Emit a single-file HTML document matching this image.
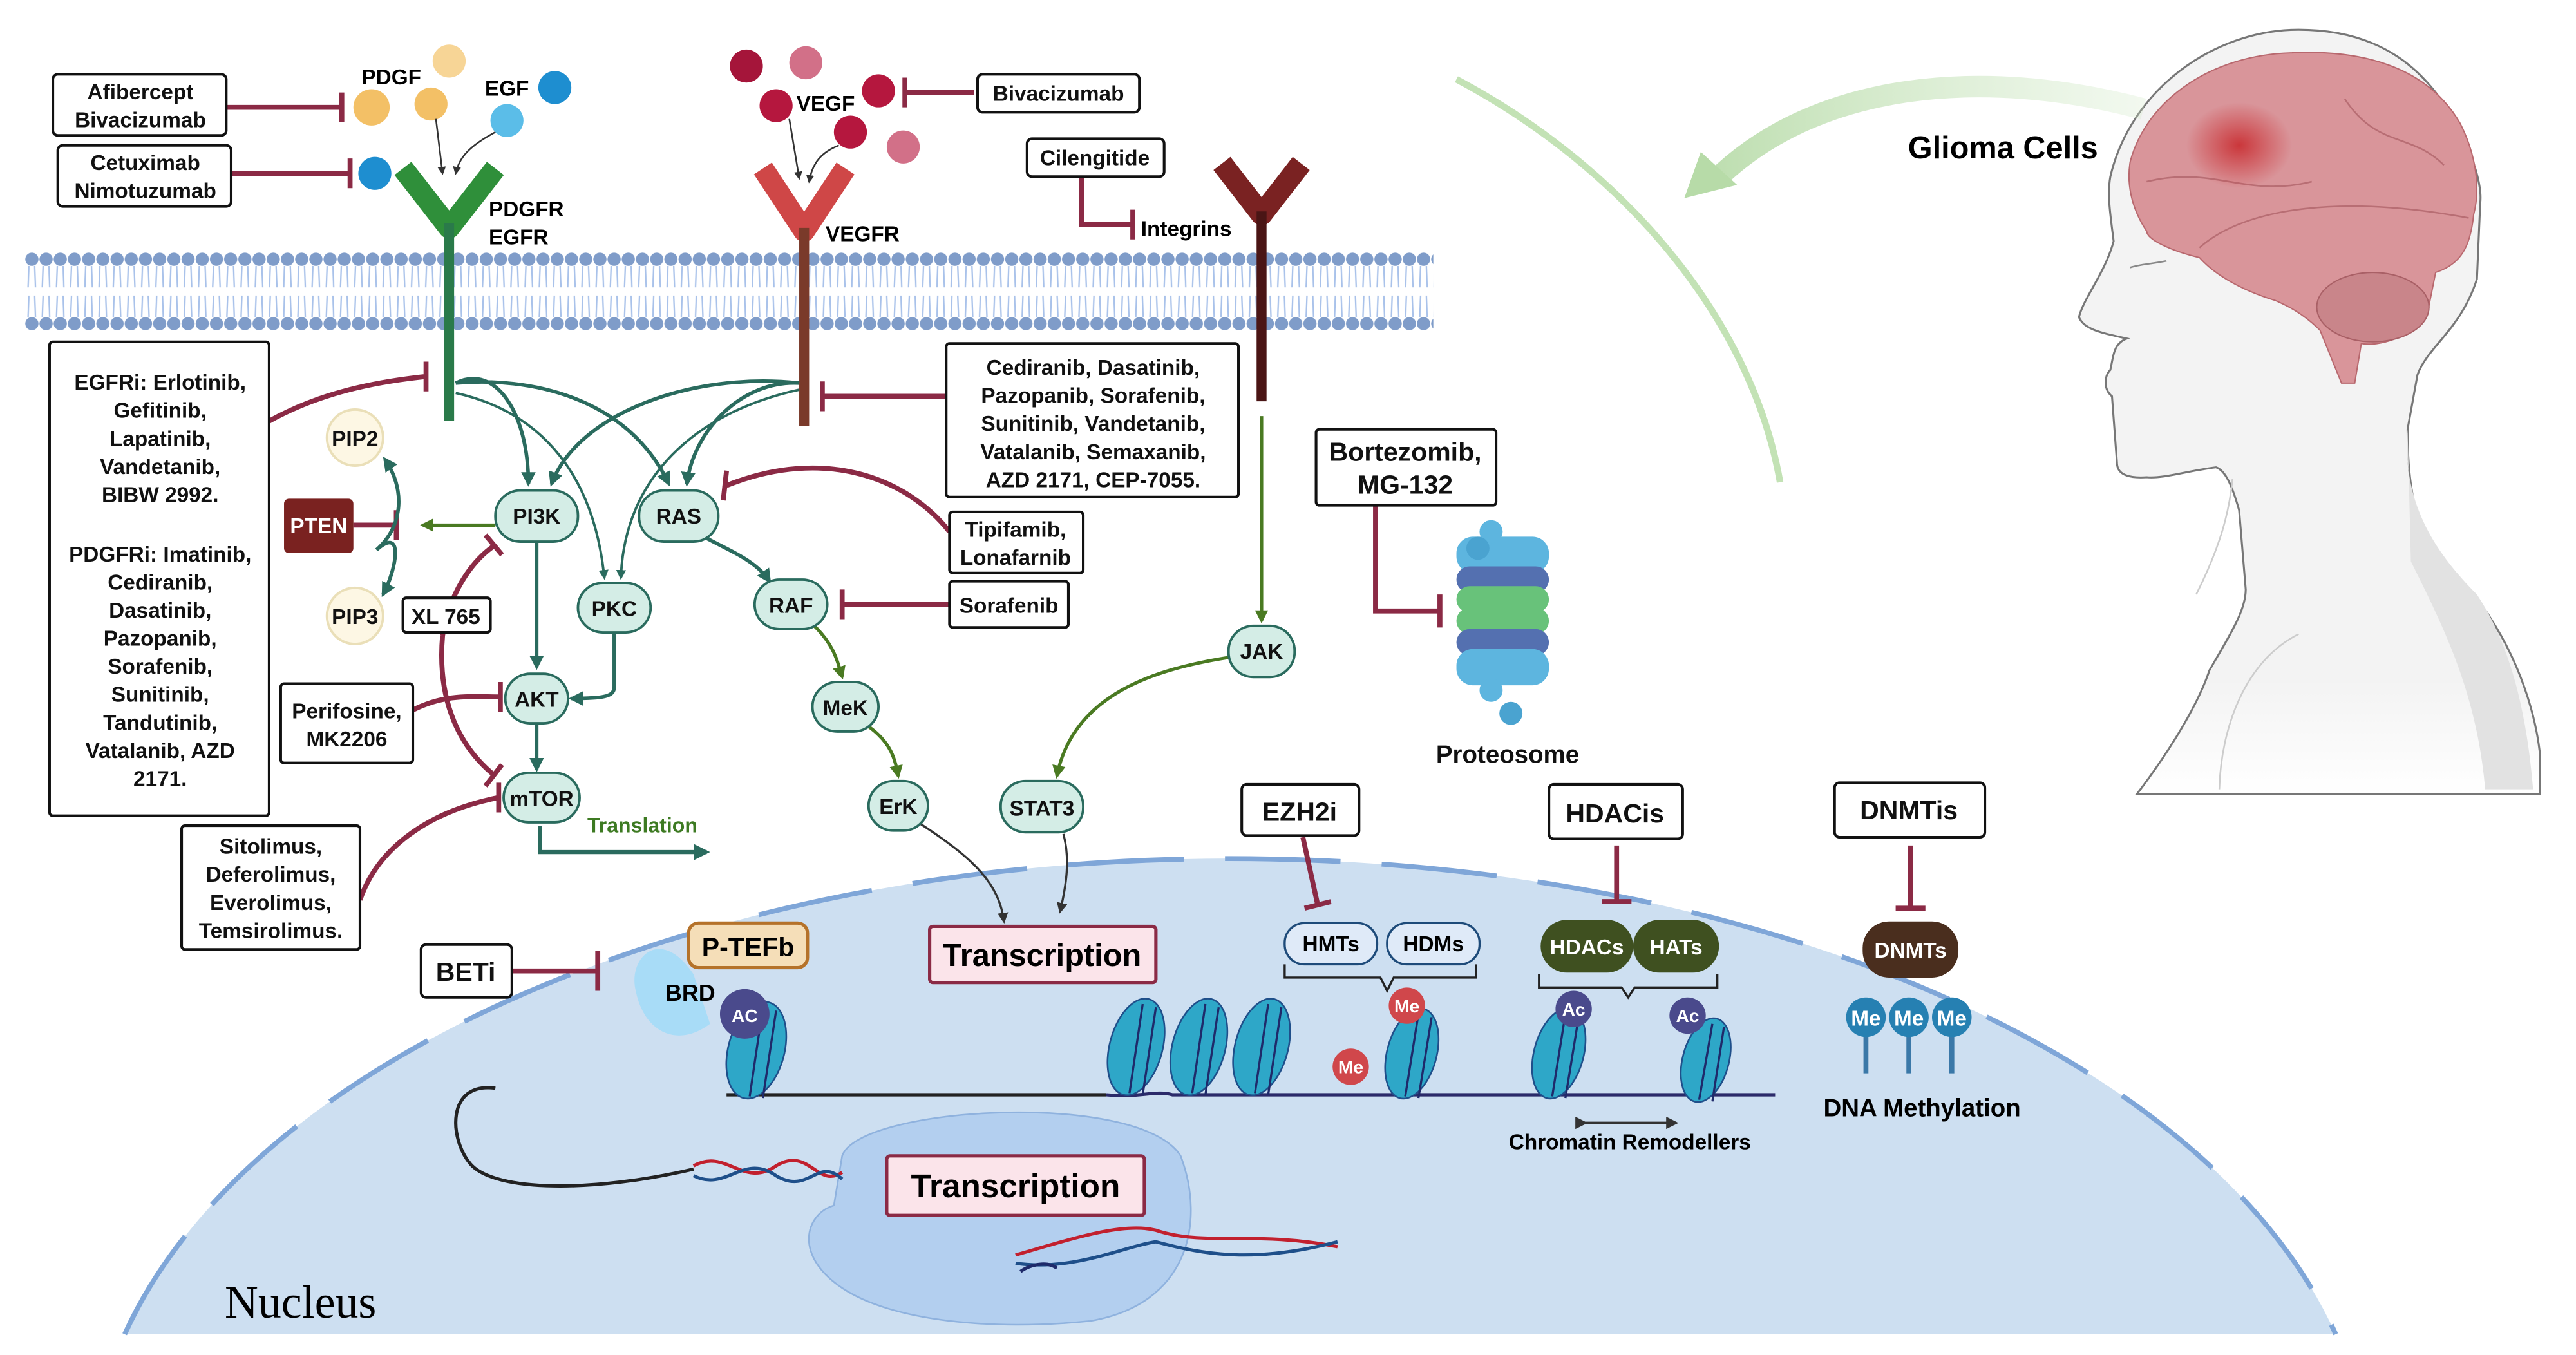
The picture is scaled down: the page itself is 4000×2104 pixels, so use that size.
<!DOCTYPE html>
<html><head><meta charset="utf-8"><style>
html,body{margin:0;padding:0;background:#fff;width:4000px;height:2104px;overflow:hidden;}
svg{display:block;}
text{font-family:"Liberation Sans",Arial,sans-serif;font-weight:bold;}
</style></head><body>
<svg width="4000" height="2104" viewBox="0 0 1560 820.56" preserveAspectRatio="none" xmlns="http://www.w3.org/2000/svg">
<defs>
<pattern id="heads" x="15" y="0" width="8.6" height="820" patternUnits="userSpaceOnUse">
<circle cx="4.3" cy="157" r="4" fill="#7f9cc9"/>
<circle cx="4.3" cy="196" r="4" fill="#7f9cc9"/>
<path d="M2.5 161 L2 174 M6 161 L6.5 174 M2.5 179 L2 192 M6 179 L6.5 192" stroke="#a9c2ea" stroke-width="0.9" fill="none"/>
</pattern>
<radialGradient id="glow" cx="0.5" cy="0.5" r="0.5"><stop offset="0" stop-color="#c8262a" stop-opacity="0.85"/><stop offset="1" stop-color="#c8262a" stop-opacity="0"/></radialGradient>
<linearGradient id="grn" x1="0" y1="0" x2="1" y2="0"><stop offset="0" stop-color="#b7dba8"/><stop offset="1" stop-color="#cfe8c4" stop-opacity="0.3"/></linearGradient>
<linearGradient id="bodyfade" x1="0" y1="0" x2="0" y2="1"><stop offset="0.85" stop-color="#f3f3f3"/><stop offset="1" stop-color="#fff"/></linearGradient>
<marker id="ag" viewBox="0 0 10 10" refX="8" refY="5" markerWidth="4" markerHeight="4" orient="auto"><path d="M0 0 L10 5 L0 10 z" fill="#2a6b5e"/></marker>
<marker id="agr" viewBox="0 0 10 10" refX="8" refY="5" markerWidth="4" markerHeight="4" orient="auto"><path d="M0 0 L10 5 L0 10 z" fill="#4a7a22"/></marker>
<marker id="ak" viewBox="0 0 10 10" refX="8" refY="5" markerWidth="5" markerHeight="5" orient="auto"><path d="M0 0 L10 5 L0 10 z" fill="#333"/></marker>
</defs>

<!-- head -->
<path d="M1392 18 C1440 18 1470 40 1490 80 C1500 100 1503 115 1502 123 L1500 169 C1490 200 1470 210 1464 227 L1458 260 C1458 290 1462 310 1468 322 C1480 345 1500 360 1508 374 C1525 400 1535 430 1538 455 L1538 481 L1294 481 C1310 460 1330 430 1338 406 C1350 385 1360 370 1360 357 L1356 309 C1352 295 1348 285 1342 283 C1325 285 1310 290 1300 289 C1285 290 1282 285 1282 280 L1279 240 C1274 236 1274 228 1278 224 C1280 215 1280 208 1288 205 C1275 202 1262 200 1259 192 C1262 180 1275 165 1280 146 C1278 130 1276 118 1278 107 C1290 55 1340 18 1392 18 Z" fill="url(#bodyfade)" stroke="#777" stroke-width="1.2"/>
<path d="M1458 260 C1455 300 1470 330 1500 360 C1520 390 1530 430 1534 478 L1505 478 C1500 420 1480 380 1460 340 Z" fill="#e2e2e2"/>
<path d="M1330 360 C1345 330 1350 310 1352 290" stroke="#ccc" stroke-width="1" fill="none"/>
<path d="M1392 384 C1360 400 1345 440 1344 478" stroke="#ccc" stroke-width="1" fill="none"/>
<path d="M1290 162 C1296 160 1302 160 1312 158" stroke="#888" stroke-width="1" fill="none"/>
<!-- brain -->
<path d="M1290 98 C1300 60 1340 33 1388 32 C1430 30 1470 40 1490 75 C1500 95 1502 115 1498 130 C1496 150 1490 160 1475 165 L1470 190 C1460 205 1440 210 1430 208 L1426 232 L1418 232 L1405 200 C1395 190 1385 185 1378 182 C1355 175 1340 165 1332 156 C1315 152 1300 145 1300 140 C1290 125 1288 110 1290 98 Z" fill="#d9959a" stroke="#b8686e" stroke-width="0.8"/>
<path d="M1332 150 C1360 125 1420 118 1495 132 M1300 110 C1340 100 1360 120 1400 110 M1420 60 C1440 90 1460 80 1480 100" stroke="#b86e74" stroke-width="1" fill="none"/>
<ellipse cx="1437" cy="186" rx="34" ry="21" fill="#c9858a" stroke="#a96066" stroke-width="0.8"/>
<ellipse cx="1356" cy="88" rx="32" ry="26" fill="url(#glow)"/>
<!-- green arrows -->
<path d="M1298 66 C1200 40 1100 50 1040 108" stroke="url(#grn)" stroke-width="13" fill="none" opacity="0.9"/>
<path d="M1020 120 L1030 92 L1052 112 Z" fill="#b7dba8"/>
<path d="M882 48 C980 100 1060 190 1078 292" stroke="#c3e2b5" stroke-width="4" fill="none"/>
<text x="1213" y="96" font-size="19" text-anchor="middle">Glioma Cells</text>

<!-- nucleus -->
<path d="M75.5 808 A690 380 0 0 1 1414.5 808 Z" fill="#cddff1"/>
<path d="M75.5 808 A690 380 0 0 1 1414.5 808" fill="none" stroke="#7fa6d8" stroke-width="3" stroke-dasharray="70 25"/>

<!-- membrane -->
<rect x="15" y="150" width="853" height="52" fill="url(#heads)"/>

<!-- receptors -->
<path d="M244 102 L272 138 L300 102" stroke="#2f8f3a" stroke-width="13" fill="none" stroke-linejoin="round"/>
<line x1="272" y1="135" x2="272" y2="255" stroke="#2a7a4a" stroke-width="6"/>
<path d="M462 102 L487 140 L512 102" stroke="#cf4747" stroke-width="13" fill="none" stroke-linejoin="round"/>
<line x1="487" y1="138" x2="487" y2="258" stroke="#7a3a2a" stroke-width="6"/>
<path d="M740 99 L764 130 L788 99" stroke="#7a2222" stroke-width="13" fill="none" stroke-linejoin="round"/>
<line x1="764" y1="128" x2="764" y2="243" stroke="#4a1515" stroke-width="6"/>

<!-- ligands -->
<circle cx="272" cy="37" r="10" fill="#f7d596"/><circle cx="225" cy="65" r="11" fill="#f3c066"/><circle cx="261" cy="63" r="10" fill="#f3c066"/>
<circle cx="336" cy="53" r="10" fill="#1e8ed0"/><circle cx="307" cy="73" r="10" fill="#5bbde8"/><circle cx="227" cy="105" r="10" fill="#1e8ed0"/>
<circle cx="452" cy="40" r="10" fill="#a5153a"/><circle cx="488" cy="38" r="10" fill="#d27088"/><circle cx="470" cy="64" r="10" fill="#b5173e"/><circle cx="532" cy="55" r="10" fill="#b5173e"/><circle cx="515" cy="80" r="10" fill="#b5173e"/><circle cx="547" cy="89" r="10" fill="#d27088"/>
<text x="237" y="51" font-size="13" text-anchor="middle">PDGF</text>
<text x="307" y="58" font-size="13" text-anchor="middle">EGF</text>
<text x="500" y="67" font-size="13" text-anchor="middle">VEGF</text>
<path d="M264 72 L268 105" stroke="#333" stroke-width="1" marker-end="url(#ak)" fill="none"/>
<path d="M300 80 C285 88 278 95 276 105" stroke="#333" stroke-width="1" marker-end="url(#ak)" fill="none"/>
<path d="M478 72 L484 108" stroke="#333" stroke-width="1" marker-end="url(#ak)" fill="none"/>
<path d="M508 88 C498 92 492 98 490 110" stroke="#333" stroke-width="1" marker-end="url(#ak)" fill="none"/>
<text x="296" y="131" font-size="13">PDGFR</text>
<text x="296" y="148" font-size="13">EGFR</text>
<text x="500" y="146" font-size="13">VEGFR</text>
<text x="691" y="143" font-size="13">Integrins</text>

<!-- inhibitor lines (red) -->
<g stroke="#8b2a45" stroke-width="3" fill="none">
<path d="M137 65 L207 65 M207 56 L207 74"/>
<path d="M140 105 L212 105 M212 96 L212 114"/>
<path d="M590 56 L548 56 M548 47 L548 65"/>
<path d="M655 107 L655 136 L686 136 M686 127 L686 145"/>
<path d="M163 255 C190 240 220 232 258 228 M258 219 L258 237"/>
<path d="M573 240 L498 240 M498 231 L498 249"/>
<path d="M575 322 C550 290 500 270 440 294 M440 285 L438 303"/>
<path d="M575 366 L510 366 M510 357 L510 375"/>
<path d="M214 318 L240 318 M240 309 L240 327"/>
<path d="M268 385 C272 360 285 340 300 330 M294 324 L304 336"/>
<path d="M268 385 C265 420 275 450 300 470 M294 476 L304 463"/>
<path d="M250 430 C270 420 285 422 303 422 M303 413 L303 431"/>
<path d="M218 545 C230 510 265 490 302 483 M302 474 L302 492"/>
<path d="M833 306 L833 370 L872 370 M872 360 L872 380"/>
<path d="M789 507 L798 548 M790 550 L806 546"/>
<path d="M979 512 L979 545 M970 546 L988 546"/>
<path d="M1157 512 L1157 549 M1148 550 L1166 550"/>
<path d="M310 588 L362 588 M362 576 L362 600"/>
</g>

<!-- teal activation -->
<g stroke="#2a6b5e" stroke-width="2.2" fill="none">
<path d="M276 232 C300 220 320 250 320 293" marker-end="url(#ag)"/>
<path d="M276 232 C320 228 380 240 405 293" marker-end="url(#ag)"/>
<path d="M276 238 C330 250 360 290 366 350" stroke-width="1.5" marker-end="url(#ag)"/>
<path d="M484 232 C420 225 350 250 334 293" marker-end="url(#ag)"/>
<path d="M484 232 C450 230 420 260 416 293" marker-end="url(#ag)"/>
<path d="M484 236 C420 250 378 290 376 350" stroke-width="1.5" marker-end="url(#ag)"/>
<path d="M325 328 L325 404" marker-end="url(#ag)"/>
<path d="M325 438 L325 466" marker-end="url(#ag)"/>
<path d="M372 384 L372 416 C372 422 365 423 346 423" marker-end="url(#ag)"/>
<path d="M428 326 C445 335 458 340 466 352" marker-end="url(#ag)"/>
<path d="M228 333 C245 318 245 295 233 278" marker-end="url(#ag)"/>
<path d="M228 333 C245 318 240 345 232 360" marker-end="url(#ag)"/>
<path d="M327 500 L327 516 L428 516" stroke-width="2.5" marker-end="url(#ag)"/>
</g>
<g stroke="#4a7a22" stroke-width="2" fill="none">
<path d="M300 318 L256 318" marker-end="url(#agr)"/>
<path d="M764 252 L764 376" marker-end="url(#agr)"/>
<path d="M745 398 C700 405 650 420 640 470" marker-end="url(#agr)"/>
<path d="M492 378 C505 390 507 400 510 410" marker-end="url(#agr)"/>
<path d="M526 440 C540 450 542 460 544 470" marker-end="url(#agr)"/>
</g>
<g stroke="#333" stroke-width="1.3" fill="none">
<path d="M556 498 C590 520 605 535 608 558" marker-end="url(#ak)"/>
<path d="M644 505 C648 520 646 535 642 552" marker-end="url(#ak)"/>
</g>
<path d="M960 680 L1015 680" stroke="#333" stroke-width="1.5" marker-start="url(#ak)" marker-end="url(#ak)"/>

<!-- nodes -->
<g font-size="13" text-anchor="middle" fill="#111">
<g fill="#d4ede6" stroke="#2a6b5e" stroke-width="1.5">
<rect x="300" y="297" width="50" height="31" rx="15"/>
<rect x="387" y="297" width="48" height="31" rx="15"/>
<rect x="350" y="353" width="44" height="30" rx="15"/>
<rect x="306" y="408" width="38" height="30" rx="15"/>
<rect x="305" y="468" width="46" height="30" rx="15"/>
<rect x="457" y="351" width="44" height="30" rx="15"/>
<rect x="492" y="413" width="40" height="30" rx="15"/>
<rect x="526" y="473" width="36" height="30" rx="15"/>
<rect x="606" y="473" width="50" height="31" rx="15"/>
<rect x="744" y="379" width="40" height="31" rx="15"/>
</g>
<text x="325" y="317">PI3K</text><text x="411" y="317">RAS</text><text x="372" y="373">PKC</text><text x="325" y="428">AKT</text><text x="328" y="488">mTOR</text><text x="479" y="371">RAF</text><text x="512" y="433">MeK</text><text x="544" y="493">ErK</text><text x="631" y="494">STAT3</text><text x="764" y="399">JAK</text>
<circle cx="215" cy="265" r="17" fill="#fdf7e4" stroke="#eadfb8" stroke-width="1.5"/><text x="215" y="270">PIP2</text>
<circle cx="215" cy="373" r="17" fill="#fdf7e4" stroke="#eadfb8" stroke-width="1.5"/><text x="215" y="378">PIP3</text>
<rect x="172" y="302" width="42" height="33" rx="3" fill="#7a2220"/><text x="193" y="323" fill="#fff">PTEN</text>
<text x="389" y="504" fill="#3d7a22" font-size="12.5">Translation</text>
</g>

<!-- text boxes -->
<g fill="#fff" stroke="#111" stroke-width="1.6">
<rect x="32" y="45" width="105" height="37" rx="3"/>
<rect x="35" y="88" width="105" height="37" rx="3"/>
<rect x="592" y="45" width="98" height="23" rx="3"/>
<rect x="622" y="84" width="83" height="23" rx="3"/>
<rect x="30" y="207" width="133" height="287" rx="2"/>
<rect x="573" y="208" width="177" height="93" rx="2"/>
<rect x="244" y="362" width="53" height="21" rx="2"/>
<rect x="170" y="414" width="80" height="48" rx="2"/>
<rect x="110" y="500" width="108" height="75" rx="2"/>
<rect x="575" y="310" width="81" height="37" rx="2"/>
<rect x="575" y="352" width="72" height="28" rx="2"/>
<rect x="797" y="260" width="109" height="46" rx="2"/>
<rect x="752" y="475" width="71" height="31" rx="3"/>
<rect x="938" y="475" width="81" height="33" rx="3"/>
<rect x="1111" y="474" width="91" height="33" rx="3"/>
<rect x="255" y="572" width="55" height="32" rx="3"/>
</g>
<g font-size="13" text-anchor="middle" fill="#111">
<text x="85" y="60">Afibercept</text><text x="85" y="77">Bivacizumab</text>
<text x="88" y="103">Cetuximab</text><text x="88" y="120">Nimotuzumab</text>
<text x="641" y="61">Bivacizumab</text>
<text x="663" y="100">Cilengitide</text>
<text x="97" y="236">EGFRi: Erlotinib,</text><text x="97" y="253">Gefitinib,</text><text x="97" y="270">Lapatinib,</text><text x="97" y="287">Vandetanib,</text><text x="97" y="304">BIBW 2992.</text>
<text x="97" y="340">PDGFRi: Imatinib,</text><text x="97" y="357">Cediranib,</text><text x="97" y="374">Dasatinib,</text><text x="97" y="391">Pazopanib,</text><text x="97" y="408">Sorafenib,</text><text x="97" y="425">Sunitinib,</text><text x="97" y="442">Tandutinib,</text><text x="97" y="459">Vatalanib, AZD</text><text x="97" y="476">2171.</text>
<text x="662" y="227">Cediranib, Dasatinib,</text><text x="662" y="244">Pazopanib, Sorafenib,</text><text x="662" y="261">Sunitinib, Vandetanib,</text><text x="662" y="278">Vatalanib, Semaxanib,</text><text x="662" y="295">AZD 2171, CEP-7055.</text>
<text x="270" y="378">XL 765</text>
<text x="210" y="435">Perifosine,</text><text x="210" y="452">MK2206</text>
<text x="164" y="517">Sitolimus,</text><text x="164" y="534">Deferolimus,</text><text x="164" y="551">Everolimus,</text><text x="164" y="568">Temsirolimus.</text>
<text x="615" y="325">Tipifamib,</text><text x="615" y="342">Lonafarnib</text>
<text x="611" y="371">Sorafenib</text>
<text x="851" y="279" font-size="16">Bortezomib,</text><text x="851" y="299" font-size="16">MG-132</text>
<text x="787" y="497" font-size="16">EZH2i</text>
<text x="978" y="498" font-size="16">HDACis</text>
<text x="1156" y="496" font-size="16">DNMTis</text>
<text x="282" y="594" font-size="16">BETi</text>
<text x="913" y="462" font-size="15">Proteosome</text>
</g>

<!-- proteosome -->
<g>
<rect x="882" y="325" width="56" height="22" rx="10" fill="#5db5df"/>
<rect x="882" y="343" width="56" height="16" rx="8" fill="#5470b0"/>
<rect x="882" y="355" width="56" height="16" rx="8" fill="#68c27a"/>
<rect x="882" y="368" width="56" height="16" rx="8" fill="#68c27a"/>
<rect x="882" y="381" width="56" height="16" rx="8" fill="#5470b0"/>
<rect x="882" y="393" width="56" height="22" rx="10" fill="#5db5df"/>
<circle cx="903" cy="322" r="7" fill="#5db5df"/><circle cx="895" cy="332" r="7" fill="#4aa3d0"/>
<circle cx="903" cy="418" r="7" fill="#5db5df"/><circle cx="915" cy="432" r="7" fill="#4aa3d0"/>
</g>

<!-- nucleus contents -->
<path d="M420 590 C400 560 380 580 385 600 C390 625 410 635 430 620 Z" fill="#a8dcf7"/>
<rect x="417" y="559" width="72" height="27" rx="6" fill="#f5deb8" stroke="#b5722a" stroke-width="2"/>
<text x="453" y="579" font-size="16" text-anchor="middle">P-TEFb</text>
<text x="418" y="606" font-size="14" text-anchor="middle">BRD</text>

<!-- DNA fiber -->
<path d="M440 663 L670 663 M300 659 C270 655 272 690 285 705 C300 722 360 722 420 708" stroke="#222" stroke-width="2" fill="none"/>
<path d="M670 663 C690 665 700 660 710 663 L1075 663" stroke="#2b2a6a" stroke-width="2" fill="none"/>
<g fill="#2ea7c8" stroke="#1f4f8a" stroke-width="1">
<ellipse cx="458" cy="636" rx="17" ry="30" transform="rotate(15 458 636)"/>
<ellipse cx="688" cy="634" rx="16" ry="30" transform="rotate(15 688 634)"/>
<ellipse cx="726" cy="634" rx="16" ry="30" transform="rotate(15 726 634)"/>
<ellipse cx="764" cy="634" rx="16" ry="30" transform="rotate(15 764 634)"/>
<ellipse cx="855" cy="638" rx="15" ry="28" transform="rotate(15 855 638)"/>
<ellipse cx="944" cy="638" rx="15" ry="28" transform="rotate(15 944 638)"/>
<ellipse cx="1033" cy="642" rx="14" ry="26" transform="rotate(15 1033 642)"/>
</g>
<g stroke="#1f2a6a" stroke-width="1.3" fill="none">
<path d="M462 610 L454 664 M470 612 L462 665"/>
<path d="M692 608 L684 662 M700 610 L692 663 M730 608 L722 662 M738 610 L730 663 M768 608 L760 662 M776 610 L768 663"/>
<path d="M859 614 L851 664 M867 616 L859 665 M948 614 L940 664 M956 616 L948 665 M1037 620 L1029 666 M1044 622 L1037 667"/>
</g>
<g font-size="11" text-anchor="middle" fill="#fff" font-weight="normal">
<circle cx="451" cy="614" r="15" fill="#4a4a8c"/><text x="451" y="619">AC</text>
<circle cx="852" cy="609" r="11" fill="#d0474b"/><text x="852" y="613">Me</text>
<circle cx="818" cy="646" r="11" fill="#d0474b"/><text x="818" y="650">Me</text>
<circle cx="953" cy="611" r="11" fill="#4a4a8c"/><text x="953" y="615">Ac</text>
<circle cx="1022" cy="615" r="11" fill="#4a4a8c"/><text x="1022" y="619">Ac</text>
<g stroke="#3a78a8" stroke-width="3"><line x1="1130" y1="620" x2="1130" y2="650"/><line x1="1156" y1="620" x2="1156" y2="650"/><line x1="1182" y1="620" x2="1182" y2="650"/></g>
<circle cx="1130" cy="616" r="12" fill="#2680b2"/><text x="1130" y="621" font-size="13">Me</text>
<circle cx="1156" cy="616" r="12" fill="#2680b2"/><text x="1156" y="621" font-size="13">Me</text>
<circle cx="1182" cy="616" r="12" fill="#2680b2"/><text x="1182" y="621" font-size="13">Me</text>
</g>
<g font-size="13" text-anchor="middle">
<rect x="778" y="559" width="56" height="25" rx="12" fill="#dfeaf8" stroke="#1e4b7a" stroke-width="1.3"/><text x="806" y="576">HMTs</text>
<rect x="840" y="559" width="56" height="25" rx="12" fill="#dfeaf8" stroke="#1e4b7a" stroke-width="1.3"/><text x="868" y="576">HDMs</text>
<rect x="933" y="557" width="56" height="32" rx="16" fill="#3f5020"/><text x="961" y="578" fill="#fff">HDACs</text>
<rect x="989" y="557" width="52" height="32" rx="16" fill="#3f5020"/><text x="1015" y="578" fill="#fff">HATs</text>
<rect x="1128" y="558" width="58" height="34" rx="16" fill="#4a2e1e"/><text x="1157" y="580" fill="#fff">DNMTs</text>
</g>
<path d="M778 584 L778 592 L836 592 L840 600 L844 592 L894 592 L894 584" stroke="#222" stroke-width="1.3" fill="none"/>
<path d="M932 590 L932 598 L982 598 L986 604 L990 598 L1040 598 L1040 590" stroke="#222" stroke-width="1.3" fill="none"/>
<text x="1164" y="676" font-size="15" text-anchor="middle">DNA Methylation</text>
<text x="987" y="696" font-size="13" text-anchor="middle">Chromatin Remodellers</text>

<!-- transcription bubble -->
<path d="M510 700 C520 670 690 660 715 700 C730 740 720 790 660 800 C600 806 540 800 510 780 C480 760 488 735 505 730 Z" fill="#9fc3ee" opacity="0.55" stroke="#5d8fd0" stroke-width="1"/>
<path d="M420 706 C440 695 450 720 470 706 C490 694 495 720 510 710" stroke="#c2202e" stroke-width="2" fill="none"/>
<path d="M420 712 C440 722 450 698 470 712 C490 724 495 700 510 714" stroke="#1e4f8a" stroke-width="2" fill="none"/>
<path d="M615 760 C650 750 680 740 700 745 C730 755 760 745 810 755" stroke="#c2202e" stroke-width="2" fill="none"/>
<path d="M615 765 C650 770 680 755 700 752 C730 760 760 765 810 752" stroke="#1e4f8a" stroke-width="2" fill="none"/>
<path d="M618 770 C625 765 635 764 640 768" stroke="#1e2a6a" stroke-width="2" fill="none"/>
<rect x="563" y="561" width="137" height="34" rx="2" fill="#fbe4ea" stroke="#8b2a45" stroke-width="2"/>
<text x="631" y="585" font-size="19" text-anchor="middle">Transcription</text>
<rect x="537" y="700" width="156" height="36" rx="2" fill="#fbe4ea" stroke="#8b2a45" stroke-width="2"/>
<text x="615" y="725" font-size="20" text-anchor="middle">Transcription</text>
<text x="182" y="798" font-size="28" text-anchor="middle" style="font-family:'Liberation Serif',serif;font-weight:normal">Nucleus</text>
</svg>
</body></html>
